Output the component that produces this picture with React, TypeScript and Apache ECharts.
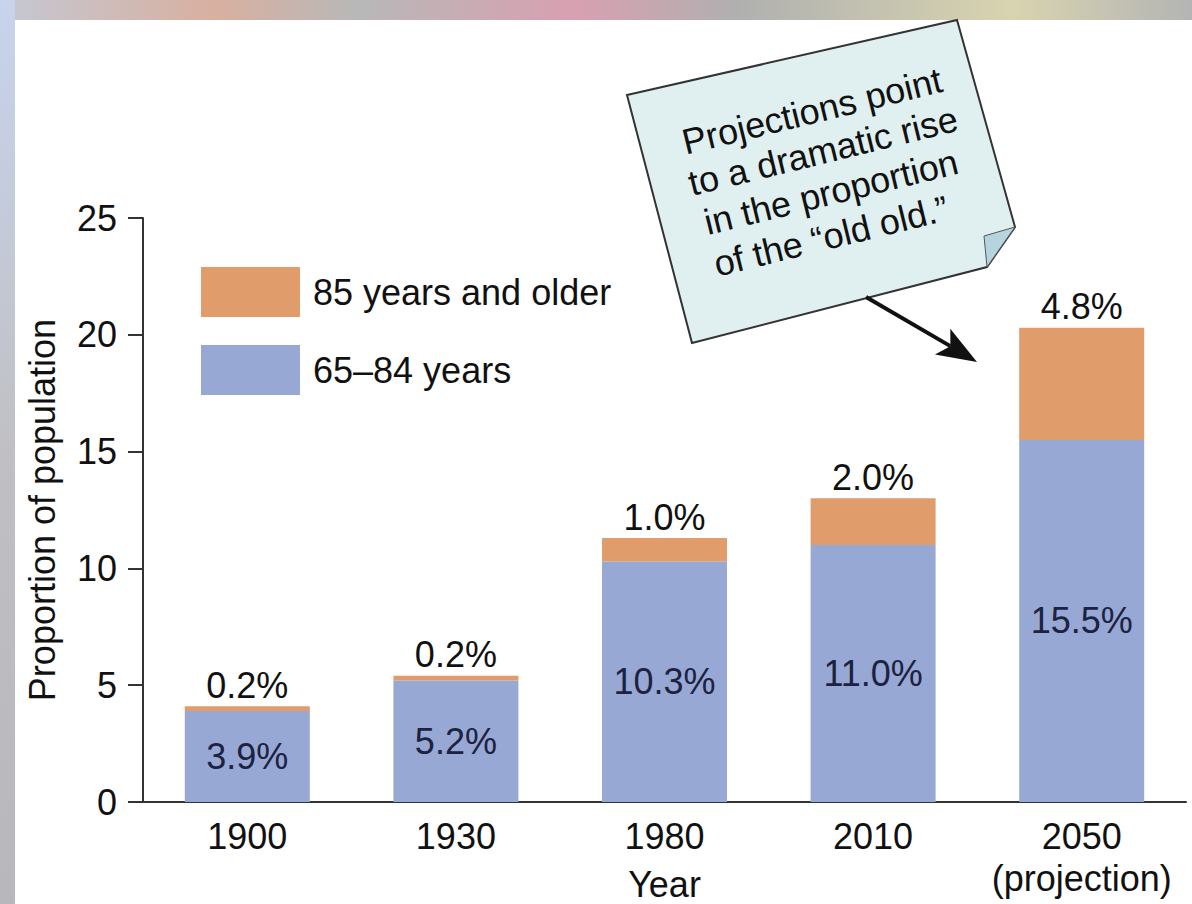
import React, { useEffect, useRef } from "react";
import * as echarts from "echarts";

const years = ["1900", "1930", "1980", "2010", "2050\n(projection)"];
const youngOld = [3.9, 5.2, 10.3, 11.0, 15.5];
const oldOld = [0.2, 0.2, 1.0, 2.0, 4.8];
const seriesNames = ["65–84 years", "85 years and older"];
const yTicks = [0, 5, 10, 15, 20, 25];
const calloutLines = ["Projections point", "to a dramatic rise", "in the proportion", "of the “old old.”"];

const FONT = "'Liberation Sans', Arial, Helvetica, sans-serif";
const BLUE = "#97a8d5";
const ORANGE = "#e09c6a";
const FS = 36;

export default function App() {
  const ref = useRef<HTMLDivElement>(null);

  useEffect(() => {
    if (!ref.current) return;
    const chart = echarts.init(ref.current, null, { renderer: "svg" });
    const rot = 0.24;
    const textCenters = [
      [812, 111],
      [823, 151],
      [831, 192],
      [831, 236],
    ];
    const tip = [977, 362];
    const dir = [0.859, 0.512];
    const perp = [-0.512, 0.859];
    const hl = 40;
    const hw = 15;
    const base = [tip[0] - hl * dir[0], tip[1] - hl * dir[1]];
    const notch = [base[0] + 9 * dir[0], base[1] + 9 * dir[1]];

    chart.setOption({
      animation: false,
      backgroundColor: "#ffffff",
      textStyle: { fontFamily: FONT },
      grid: {
        left: 143,
        right: 6,
        top: 218,
        bottom: 102,
        containLabel: false,
        outerBoundsMode: "none",
      },
      legend: {
        data: [seriesNames[1], seriesNames[0]],
        orient: "vertical",
        left: 196,
        top: 262,
        itemWidth: 99,
        itemHeight: 50,
        itemGap: 28,
        icon: "rect",
        selectedMode: false,
        textStyle: { fontSize: FS, color: "#111", fontFamily: FONT, padding: [0, 0, 0, 8] },
      },
      xAxis: {
        type: "category",
        data: years,
        name: "Year",
        nameLocation: "middle",
        nameGap: 64,
        nameMoveOverlap: false,
        nameTextStyle: { fontSize: FS, color: "#111", fontFamily: FONT },
        axisLine: { lineStyle: { color: "#333", width: 2 } },
        axisTick: { show: false },
        axisLabel: {
          interval: 0,
          hideOverlap: false,
          fontSize: FS,
          color: "#111",
          margin: 13,
          lineHeight: 42,
          fontFamily: FONT,
        },
      },
      yAxis: {
        type: "value",
        min: yTicks[0],
        max: yTicks[yTicks.length - 1],
        interval: 5,
        name: "Proportion of population",
        nameLocation: "middle",
        nameGap: 83,
        nameTextStyle: { fontSize: FS, color: "#111", fontFamily: FONT },
        axisLine: { show: true, lineStyle: { color: "#333", width: 2 } },
        axisTick: { show: true, length: 15, lineStyle: { color: "#333", width: 2 } },
        axisLabel: { fontSize: FS, color: "#111", margin: 26, fontFamily: FONT },
        splitLine: { show: false },
      },
      series: [
        {
          name: seriesNames[0],
          type: "bar",
          stack: "total",
          data: youngOld,
          barWidth: 125,
          itemStyle: { color: BLUE },
          label: {
            show: true,
            position: "inside",
            formatter: (p: any) => p.value.toFixed(1) + "%",
            fontSize: FS,
            color: "#1c2240",
            fontFamily: FONT,
          },
        },
        {
          name: seriesNames[1],
          type: "bar",
          stack: "total",
          data: oldOld,
          barWidth: 125,
          itemStyle: { color: ORANGE },
          label: {
            show: true,
            position: "top",
            distance: 3,
            formatter: (p: any) => p.value.toFixed(1) + "%",
            fontSize: FS,
            color: "#111",
            fontFamily: FONT,
          },
        },
      ],
      graphic: [
        {
          type: "rect",
          shape: { x: 0, y: 0, width: 1192, height: 20 },
          style: {
            fill: new echarts.graphic.LinearGradient(0, 0, 1, 0, [
              { offset: 0, color: "#c4c8d4" },
              { offset: 0.18, color: "#d8b0a0" },
              { offset: 0.3, color: "#b8b8b8" },
              { offset: 0.48, color: "#d8a0b0" },
              { offset: 0.62, color: "#b0b0b0" },
              { offset: 0.85, color: "#d8d4b0" },
              { offset: 1, color: "#b4b4b4" },
            ]),
          },
          z: 0,
        },
        {
          type: "rect",
          shape: { x: 0, y: 0, width: 15, height: 904 },
          style: {
            fill: new echarts.graphic.LinearGradient(0, 0, 0, 1, [
              { offset: 0, color: "#c8d4ec" },
              { offset: 0.5, color: "#c0c0c4" },
              { offset: 1, color: "#b8b8bc" },
            ]),
          },
          z: 0,
        },
        {
          type: "polygon",
          shape: { points: [[627, 95], [957, 20], [1015, 227], [987, 267], [692, 343]] },
          style: { fill: "#e0f0f0", stroke: "#333", lineWidth: 2 },
          z: 10,
        },
        {
          type: "polygon",
          shape: { points: [[1015, 227], [984, 236], [987, 267]] },
          style: { fill: "#b6d4de", stroke: "#555", lineWidth: 1 },
          z: 11,
        },
        ...calloutLines.map((t, i) => ({
          type: "text",
          x: textCenters[i][0],
          y: textCenters[i][1],
          rotation: rot,
          z: 12,
          style: {
            text: t,
            fontSize: FS,
            fontFamily: FONT,
            fill: "#111",
            align: "center",
            verticalAlign: "middle",
          },
        })),
        {
          type: "line",
          shape: { x1: 866, y1: 297, x2: notch[0], y2: notch[1] },
          style: { stroke: "#111", lineWidth: 4 },
          z: 12,
        },
        {
          type: "polygon",
          shape: {
            points: [
              tip,
              [base[0] + hw * perp[0], base[1] + hw * perp[1]],
              notch,
              [base[0] - hw * perp[0], base[1] - hw * perp[1]],
            ],
          },
          style: { fill: "#111" },
          z: 12,
        },
      ],
    });
    return () => chart.dispose();
  }, []);

  return (
    <div
      ref={ref}
      style={{ position: "absolute", left: 0, top: 0, width: 1192, height: 904 }}
    />
  );
}
